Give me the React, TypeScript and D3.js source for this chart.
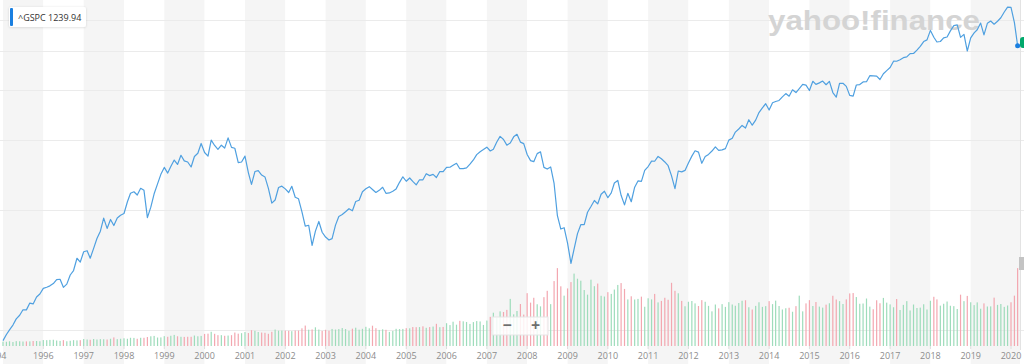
import * as d3 from "d3";

// monthly closes, Jan 1995 .. Mar 2020 (one row per year)
const closes = [
  470.42, 487.39, 500.71, 514.71, 533.4, 544.75, 562.06, 561.88, 584.41, 581.5, 605.37, 615.93,
  636.02, 640.43, 645.5, 654.17, 669.12, 670.63, 639.95, 651.99, 687.31, 705.27, 757.02, 740.74,
  786.16, 790.82, 757.12, 801.34, 848.28, 885.14, 954.31, 899.47, 947.28, 914.62, 955.4, 970.43,
  980.28, 1049.34, 1101.75, 1111.75, 1090.82, 1133.84, 1120.67, 957.28, 1017.01, 1098.67, 1163.63, 1229.23,
  1279.64, 1238.33, 1286.37, 1335.18, 1301.84, 1372.71, 1328.72, 1320.41, 1282.71, 1362.93, 1388.91, 1469.25,
  1394.46, 1366.42, 1498.58, 1452.43, 1420.6, 1454.6, 1430.83, 1517.68, 1436.51, 1429.4, 1314.95, 1320.28,
  1366.01, 1239.94, 1160.33, 1249.46, 1255.82, 1224.42, 1211.23, 1133.58, 1040.94, 1059.78, 1139.45, 1148.08,
  1130.2, 1106.73, 1147.39, 1076.92, 1067.14, 989.82, 911.62, 916.07, 815.28, 885.76, 936.31, 879.82,
  855.7, 841.15, 848.18, 916.92, 963.59, 974.5, 990.31, 1008.01, 995.97, 1050.71, 1058.2, 1111.92,
  1131.13, 1144.94, 1126.21, 1107.3, 1120.68, 1140.84, 1101.72, 1104.24, 1114.58, 1130.2, 1173.82, 1211.92,
  1181.27, 1203.6, 1180.59, 1156.85, 1191.5, 1191.33, 1234.18, 1220.33, 1228.81, 1207.01, 1249.48, 1248.29,
  1280.08, 1280.66, 1294.87, 1310.61, 1270.09, 1270.2, 1276.66, 1303.82, 1335.85, 1377.94, 1400.63, 1418.3,
  1438.24, 1406.82, 1420.86, 1482.37, 1530.62, 1503.35, 1455.27, 1473.99, 1526.75, 1549.38, 1481.14, 1468.36,
  1378.55, 1330.63, 1322.7, 1385.59, 1400.38, 1280.0, 1267.38, 1282.83, 1166.36, 968.75, 896.24, 903.25,
  825.88, 735.09, 797.87, 872.81, 919.14, 919.32, 987.48, 1020.62, 1057.08, 1036.19, 1095.63, 1115.1,
  1073.87, 1104.49, 1169.43, 1186.69, 1089.41, 1030.71, 1101.6, 1049.33, 1141.2, 1183.26, 1180.55, 1257.64,
  1286.12, 1327.22, 1325.83, 1363.61, 1345.2, 1320.64, 1292.28, 1218.89, 1131.42, 1253.3, 1246.96, 1257.6,
  1312.41, 1365.68, 1408.47, 1397.91, 1310.33, 1362.16, 1379.32, 1406.58, 1440.67, 1412.16, 1416.18, 1426.19,
  1498.11, 1514.68, 1569.19, 1597.57, 1630.74, 1606.28, 1685.73, 1632.97, 1681.55, 1756.54, 1805.81, 1848.36,
  1782.59, 1859.45, 1872.34, 1883.95, 1923.57, 1960.23, 1930.67, 2003.37, 1972.29, 2018.05, 2067.56, 2058.9,
  1994.99, 2104.5, 2067.89, 2085.51, 2107.39, 2063.11, 2103.84, 1972.18, 1920.03, 2079.36, 2080.41, 2043.94,
  1940.24, 1932.23, 2059.74, 2065.3, 2096.95, 2098.86, 2173.6, 2170.95, 2168.27, 2126.15, 2198.81, 2238.83,
  2278.87, 2363.64, 2362.72, 2384.2, 2411.8, 2423.41, 2470.3, 2471.65, 2519.36, 2575.26, 2647.58, 2673.61,
  2823.81, 2713.83, 2640.87, 2648.05, 2705.27, 2718.37, 2816.29, 2901.52, 2913.98, 2711.74, 2760.17, 2506.85,
  2704.1, 2784.49, 2834.4, 2945.83, 2752.06, 2941.76, 2980.38, 2926.46, 2976.74, 3037.56, 3140.98, 3230.78,
  3225.52, 2954.22, 2584.59,
];

// monthly volume, billions of shares
const volumes = [
  7.0, 6.8, 7.6, 6.4, 7.8, 7.6, 7.2, 7.4, 7.4, 8.0, 8.0, 7.6,
  9.6, 9.4, 9.8, 10.0, 8.8, 8.2, 9.4, 7.6, 8.4, 9.4, 9.0, 9.4,
  11.2, 10.4, 10.0, 11.2, 10.4, 11.0, 10.8, 10.4, 11.6, 13.8, 11.0, 11.6,
  12.4, 11.6, 13.2, 13.0, 11.6, 13.2, 13.2, 14.4, 15.6, 16.2, 13.6, 13.8,
  15.8, 14.8, 16.4, 17.8, 15.6, 14.8, 14.6, 14.8, 14.8, 16.8, 15.6, 16.2,
  19.4, 19.8, 22.8, 19.6, 17.4, 17.4, 16.4, 16.8, 17.4, 21.6, 19.8, 20.6,
  22.4, 20.8, 25.4, 24.4, 22.4, 21.6, 21.2, 19.6, 22.8, 26.4, 24.6, 24.8,
  24.6, 24.4, 23.8, 24.8, 24.8, 28.4, 32.8, 26.2, 26.6, 30.0, 26.4, 24.2,
  26.0, 24.6, 27.4, 26.4, 27.2, 28.8, 27.2, 24.4, 27.8, 29.4, 26.2, 27.6,
  30.8, 28.4, 32.6, 28.6, 25.8, 26.8, 26.0, 22.6, 24.2, 27.6, 27.2, 27.4,
  28.6, 28.4, 30.4, 30.2, 30.4, 31.6, 29.2, 30.4, 31.2, 35.6, 30.2, 30.6,
  36.6, 33.6, 39.0, 34.2, 40.4, 39.6, 38.6, 35.4, 38.4, 40.0, 39.4, 33.8,
  40.8, 46.8, 53.4, 45.2, 55.6, 54.6, 58.0, 75.6, 50.8, 56.2, 67.4, 50.4,
  84.8, 69.6, 77.4, 67.0, 63.6, 78.4, 88.6, 67.2, 104.2, 125.0, 95.8, 80.8,
  92.4, 102.6, 116.2, 108.0, 104.8, 89.8, 82.4, 106.4, 96.0, 100.2, 80.6, 79.4,
  86.4, 83.6, 90.6, 98.0, 101.0, 91.6, 74.8, 79.8, 74.6, 75.6, 79.2, 63.0,
  76.6, 74.8, 83.6, 70.0, 72.4, 77.4, 74.2, 101.4, 88.6, 84.6, 72.4, 63.8,
  71.0, 72.2, 68.4, 64.2, 73.6, 71.0, 64.4, 55.6, 66.6, 60.4, 67.2, 62.8,
  70.4, 66.6, 64.6, 69.0, 72.6, 73.4, 62.2, 58.6, 64.4, 70.2, 62.8, 64.0,
  72.0, 67.2, 72.8, 64.2, 58.6, 60.6, 61.4, 55.0, 64.0, 80.8, 55.6, 68.4,
  73.6, 64.2, 70.6, 63.2, 61.6, 66.4, 68.6, 80.6, 74.6, 72.0, 67.4, 74.8,
  84.4, 85.0, 78.6, 67.8, 68.2, 76.2, 63.2, 59.0, 73.4, 68.6, 77.2, 69.6,
  66.8, 62.2, 75.4, 57.8, 66.0, 72.0, 57.0, 66.6, 61.0, 61.6, 67.0, 58.6,
  72.6, 79.0, 74.8, 64.8, 67.8, 71.4, 64.6, 64.0, 59.4, 82.4, 72.0, 80.4,
  70.2, 65.6, 70.0, 59.8, 68.4, 63.4, 63.6, 77.6, 66.0, 67.4, 62.8, 65.0,
  70.2, 80.8, 125.0,
];

const tickYears = [1996, 1997, 1998, 1999, 2000, 2001, 2002, 2003, 2004, 2005, 2006, 2007, 2008,
  2009, 2010, 2011, 2012, 2013, 2014, 2015, 2016, 2017, 2018, 2019, 2020];
const edgeLabel = "1994";
const gridValues = [500, 1000, 1500, 2000, 2500, 3000];
const symbol = "^GSPC";
const hoverMonth = new Date(2001, 1, 1);

const W = 1024;
const H = 364;
const plotRight = 1020;
const baseY = 346;

const start = new Date(1995, 0, 1);
const dates = closes.map((_, i) => d3.timeMonth.offset(start, i));

const x = d3.scaleTime().domain([start, new Date(2020, 0, 1)]).range([3, 1011]);
const y = d3.scaleLog().domain([456, 3366]).range([baseY, 0]);
const yVol = d3.scaleLinear().domain([0, 130]).range([baseY, 265]);

const line = d3.line<number>()
  .x((_, i) => x(dates[i]))
  .y(d => y(d));

const bandYears = d3.range(1995, 2020);

export default function App() {
  const hoverIdx = dates.findIndex(d => +d === +hoverMonth);
  const font = "'Open Sans', 'Liberation Sans', sans-serif";

  return (
    <div>
      <style>{`body{margin:0}`}</style>
      <svg width={W} height={H} style={{ display: "block", fontFamily: font }}>
        <rect width={W} height={H} fill="#ffffff" />

        {/* alternating year bands */}
        {bandYears.map((yr, i) => {
          const x0 = Math.max(0, x(new Date(yr, 0, 1)));
          const x1 = yr === 2019 ? plotRight : x(new Date(yr + 1, 0, 1));
          return (
            <rect key={yr} x={x0} y={0} width={x1 - x0} height={H}
              fill={i % 2 === 0 ? "#f5f5f5" : "#ffffff"} />
          );
        })}

        {/* grid */}
        {gridValues.map(v => (
          <line key={v} x1={0} x2={W} y1={Math.round(y(v)) + 0.5} y2={Math.round(y(v)) + 0.5}
            stroke="#ebebeb" strokeWidth={1} />
        ))}
        <line x1={plotRight + 0.5} x2={plotRight + 0.5} y1={0} y2={baseY + 4} stroke="#e3e3e3" />

        {/* watermark */}
        <text x={768} y={30} fontSize={27} fontWeight={700} fill="#d4d4d4"
          fontFamily="'Liberation Sans', Arial, sans-serif" textLength={212} lengthAdjust="spacingAndGlyphs">
          yahoo!finance
        </text>

        {/* volume */}
        {volumes.map((v, i) => {
          const up = i === 0 || closes[i] >= closes[i - 1];
          const bx = x(dates[i]);
          return (
            <rect key={i} x={bx - 0.6} y={yVol(v)} width={1.2} height={baseY - yVol(v)}
              fill={up ? "#9edcbb" : "#f3a7b0"} />
          );
        })}

        {/* price line */}
        <path d={line(closes) || ""} fill="none" stroke="#4fa0e0" strokeWidth={1.2} strokeLinejoin="round" />

        {/* x axis labels */}
        <text x={6.5} y={359} fontSize={9} fill="#8c8c8c" textAnchor="end">{edgeLabel}</text>
        {tickYears.map(yr => {
          const tx = x(new Date(yr, 0, 1));
          return (
            <g key={yr}>
              <line x1={tx} x2={tx} y1={baseY} y2={baseY + 3} stroke="#dddddd" />
              <text x={tx} y={359} fontSize={9} fill="#8c8c8c" textAnchor="middle">{yr}</text>
            </g>
          );
        })}

        {/* last price marker */}
        <rect x={plotRight} y={37} width={10} height={11} rx={3} fill="#00a86b" />
        <circle cx={x(dates[dates.length - 1])} cy={y(closes[closes.length - 1])} r={2.5} fill="#1a7fe0" />
        <rect x={1019} y={257} width={5} height={13} fill="#c4c4c4" />

        {/* zoom control */}
        <rect x={492} y={317} width={56} height={18} fill="#ffffff" fillOpacity={0.85} stroke="#e6e6e6" />
        <text x={507} y={331} fontSize={16} fontWeight={700} fill="#6e6e6e" textAnchor="middle">−</text>
        <text x={535.5} y={331} fontSize={16} fontWeight={700} fill="#6e6e6e" textAnchor="middle">+</text>

        {/* legend */}
        <defs>
          <filter id="sh" x="-20%" y="-40%" width="140%" height="180%">
            <feDropShadow dx={0} dy={0.5} stdDeviation={1} floodColor="#000" floodOpacity={0.15} />
          </filter>
        </defs>
        <rect x={9} y={7} width={77} height={20} rx={2} fill="#ffffff" filter="url(#sh)" />
        <rect x={10} y={8} width={3} height={18} rx={1} fill="#1a7fe0" />
        <text x={18} y={20.5} fontSize={9} fill="#333333">
          {symbol} {hoverIdx >= 0 ? closes[hoverIdx].toFixed(2) : ""}
        </text>
      </svg>
    </div>
  );
}
